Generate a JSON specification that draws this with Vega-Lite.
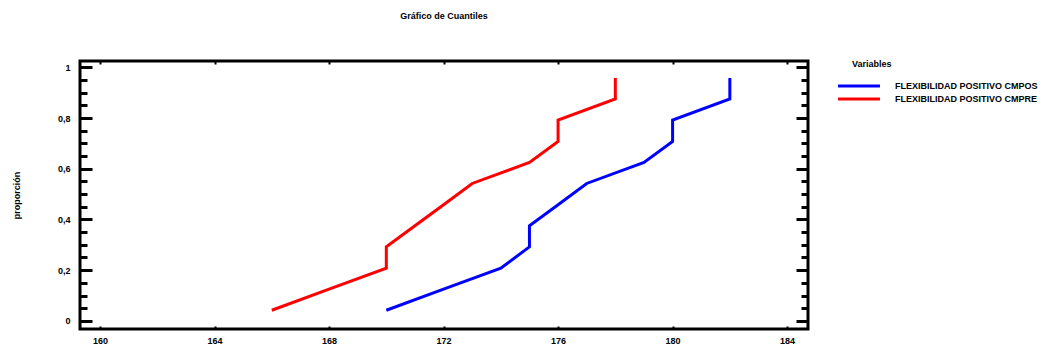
{
  "$schema": "https://vega.github.io/schema/vega-lite/v6.json",
  "width": 728,
  "height": 268,
  "autosize": {"type": "none"},
  "padding": {"left": 80, "top": 61, "right": 234, "bottom": 22},
  "background": "white",
  "title": {"text": "Gráfico de Cuantiles", "fontSize": 9, "fontWeight": "bold", "anchor": "middle", "offset": 39, "color": "black", "font": "Liberation Sans"},
  "config": {
    "view": {"stroke": "black", "strokeWidth": 3},
    "font": "Liberation Sans",
    "axis": {"grid": false, "domain": false, "tickColor": "black", "labelColor": "black", "labelFont": "Liberation Sans", "labelFontSize": 9, "labelFontWeight": "bold", "titleColor": "black", "titleFont": "Liberation Sans", "titleFontWeight": "bold", "titleFontSize": 9}
  },
  "data": {
    "values": [
      {"serie": "FLEXIBILIDAD POSITIVO CMPOS", "valor": 170, "proporcion": 0.042},
      {"serie": "FLEXIBILIDAD POSITIVO CMPOS", "valor": 172, "proporcion": 0.125},
      {"serie": "FLEXIBILIDAD POSITIVO CMPOS", "valor": 174, "proporcion": 0.208},
      {"serie": "FLEXIBILIDAD POSITIVO CMPOS", "valor": 175, "proporcion": 0.292},
      {"serie": "FLEXIBILIDAD POSITIVO CMPOS", "valor": 175, "proporcion": 0.375},
      {"serie": "FLEXIBILIDAD POSITIVO CMPOS", "valor": 176, "proporcion": 0.458},
      {"serie": "FLEXIBILIDAD POSITIVO CMPOS", "valor": 177, "proporcion": 0.542},
      {"serie": "FLEXIBILIDAD POSITIVO CMPOS", "valor": 179, "proporcion": 0.625},
      {"serie": "FLEXIBILIDAD POSITIVO CMPOS", "valor": 180, "proporcion": 0.708},
      {"serie": "FLEXIBILIDAD POSITIVO CMPOS", "valor": 180, "proporcion": 0.792},
      {"serie": "FLEXIBILIDAD POSITIVO CMPOS", "valor": 182, "proporcion": 0.875},
      {"serie": "FLEXIBILIDAD POSITIVO CMPOS", "valor": 182, "proporcion": 0.958},
      {"serie": "FLEXIBILIDAD POSITIVO CMPRE", "valor": 166, "proporcion": 0.042},
      {"serie": "FLEXIBILIDAD POSITIVO CMPRE", "valor": 168, "proporcion": 0.125},
      {"serie": "FLEXIBILIDAD POSITIVO CMPRE", "valor": 170, "proporcion": 0.208},
      {"serie": "FLEXIBILIDAD POSITIVO CMPRE", "valor": 170, "proporcion": 0.292},
      {"serie": "FLEXIBILIDAD POSITIVO CMPRE", "valor": 171, "proporcion": 0.375},
      {"serie": "FLEXIBILIDAD POSITIVO CMPRE", "valor": 172, "proporcion": 0.458},
      {"serie": "FLEXIBILIDAD POSITIVO CMPRE", "valor": 173, "proporcion": 0.542},
      {"serie": "FLEXIBILIDAD POSITIVO CMPRE", "valor": 175, "proporcion": 0.625},
      {"serie": "FLEXIBILIDAD POSITIVO CMPRE", "valor": 176, "proporcion": 0.708},
      {"serie": "FLEXIBILIDAD POSITIVO CMPRE", "valor": 176, "proporcion": 0.792},
      {"serie": "FLEXIBILIDAD POSITIVO CMPRE", "valor": 178, "proporcion": 0.875},
      {"serie": "FLEXIBILIDAD POSITIVO CMPRE", "valor": 178, "proporcion": 0.958}
    ]
  },
  "layer": [
    {
      "mark": {"type": "line", "strokeWidth": 3, "clip": true},
      "encoding": {
        "x": {"field": "valor", "type": "quantitative", "scale": {"domain": [159.3, 184.73], "nice": false, "zero": false},
              "axis": {"orient": "bottom", "values": [160, 164, 168, 172, 176, 180, 184], "tickSize": -3, "tickWidth": 2, "labelPadding": 10, "title": null, "format": "d"}},
        "y": {"field": "proporcion", "type": "quantitative", "scale": {"domain": [-0.032, 1.025], "nice": false, "zero": false},
              "axis": {"orient": "left", "values": [0, 0.2, 0.4, 0.6, 0.8, 1], "tickSize": -12, "tickWidth": 3, "labelPadding": 22,
                       "labelExpr": "datum.value == 0 ? '0' : datum.value == 1 ? '1' : replace(format(datum.value, '.1f'), '.', ',')",
                       "title": "proporción", "titlePadding": 36}},
        "color": {"field": "serie", "type": "nominal",
                  "scale": {"domain": ["FLEXIBILIDAD POSITIVO CMPOS", "FLEXIBILIDAD POSITIVO CMPRE"], "range": ["#0000ff", "#ff0000"]},
                  "legend": {"orient": "none", "legendX": 772, "legendY": -1, "title": "Variables",
                             "titleFont": "Liberation Sans", "titleFontSize": 9, "titleFontWeight": "bold", "titleColor": "black", "titlePadding": 10,
                             "labelFont": "Liberation Sans", "labelFontSize": 9, "labelFontWeight": "bold", "labelColor": "black", "labelOffset": 29, "labelLimit": 0,
                             "symbolType": "M-4,0H4", "symbolSize": 110, "symbolStrokeWidth": 3, "rowPadding": 0}},
        "order": {"field": "proporcion", "type": "quantitative"}
      }
    },
    {
      "mark": {"type": "point", "opacity": 0},
      "encoding": {
        "x": {"field": "valor", "type": "quantitative", "scale": {"domain": [159.3, 184.73], "nice": false, "zero": false},
              "axis": {"orient": "top", "values": [160, 164, 168, 172, 176, 180, 184], "tickSize": -3, "tickWidth": 2, "labels": false, "title": null}},
        "y": {"field": "proporcion", "type": "quantitative", "scale": {"domain": [-0.032, 1.025], "nice": false, "zero": false},
              "axis": {"orient": "left", "values": [0, 0.05, 0.1, 0.15, 0.2, 0.25, 0.3, 0.35, 0.4, 0.45, 0.5, 0.55, 0.6, 0.65, 0.7, 0.75, 0.8, 0.85, 0.9, 0.95, 1], "tickSize": -7, "tickWidth": 3, "labels": false, "title": null}}
      }
    },
    {
      "mark": {"type": "point", "opacity": 0},
      "encoding": {
        "x": {"field": "valor", "type": "quantitative", "scale": {"domain": [159.3, 184.73], "nice": false, "zero": false}, "axis": null},
        "y": {"field": "proporcion", "type": "quantitative", "scale": {"domain": [-0.032, 1.025], "nice": false, "zero": false},
              "axis": {"orient": "right", "values": [0, 0.2, 0.4, 0.6, 0.8, 1], "tickSize": -12, "tickWidth": 3, "labels": false, "title": null}}
      }
    },
    {
      "mark": {"type": "point", "opacity": 0},
      "encoding": {
        "x": {"field": "valor", "type": "quantitative", "scale": {"domain": [159.3, 184.73], "nice": false, "zero": false}, "axis": null},
        "y": {"field": "proporcion", "type": "quantitative", "scale": {"domain": [-0.032, 1.025], "nice": false, "zero": false},
              "axis": {"orient": "right", "values": [0, 0.05, 0.1, 0.15, 0.2, 0.25, 0.3, 0.35, 0.4, 0.45, 0.5, 0.55, 0.6, 0.65, 0.7, 0.75, 0.8, 0.85, 0.9, 0.95, 1], "tickSize": -7, "tickWidth": 3, "labels": false, "title": null}}
      }
    }
  ],
  "resolve": {"axis": {"x": "independent", "y": "independent"}}
}
